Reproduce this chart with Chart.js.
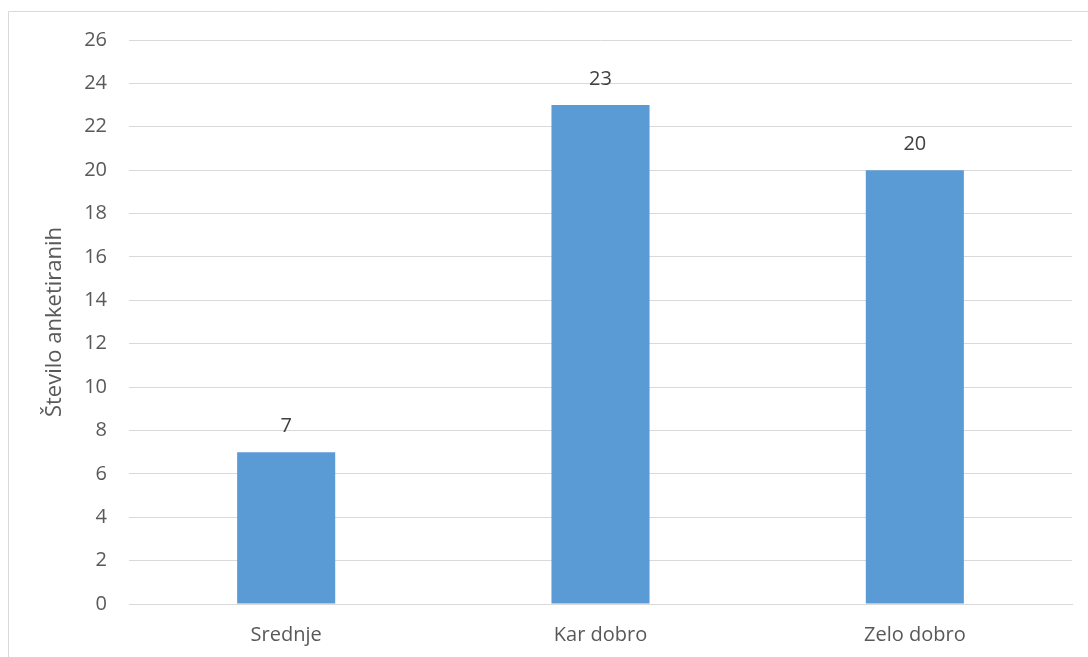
<!DOCTYPE html>
<html><head><meta charset="utf-8">
<script src="https://cdn.jsdelivr.net/npm/chart.js@4.4.1/dist/chart.umd.min.js"></script>
<style>html,body{margin:0;padding:0;background:#fff;}#wrap{width:1088px;height:657px;position:relative;}</style>
</head><body><div id="wrap"><canvas id="c" width="1088" height="657"></canvas></div>
<script>
const categories = ["Srednje", "Kar dobro", "Zelo dobro"];
const counts = [7, 23, 20];
const yTitle = "Število anketiranih";

const FONT = "'Open Sans', 'Liberation Sans', sans-serif";
const TXT = "#595959";
const GRID = "#d9d9d9";

const framePlugin = {
  id: 'frame',
  beforeDraw(chart) {
    const ctx = chart.ctx;
    ctx.save();
    ctx.strokeStyle = GRID; ctx.lineWidth = 1;
    ctx.beginPath();
    ctx.moveTo(8.5, 657); ctx.lineTo(8.5, 11.5); ctx.lineTo(1088, 11.5);
    ctx.stroke();
    ctx.restore();
  }
};
const labelPlugin = {
  id: 'vals',
  afterDatasetsDraw(chart) {
    const ctx = chart.ctx;
    const meta = chart.getDatasetMeta(0);
    ctx.save();
    ctx.font = "20px " + FONT; ctx.fillStyle = "#404040";
    ctx.textAlign = 'center'; ctx.textBaseline = 'middle';
    meta.data.forEach((bar, i) => {
      ctx.fillText(String(counts[i]), bar.x, bar.y - 26);
    });
    ctx.restore();
  }
};

new Chart(document.getElementById('c'), {
  type: 'bar',
  data: { labels: categories, datasets: [{ data: counts, backgroundColor: '#5b9bd5', categoryPercentage: 1, barPercentage: 0.312 }] },
  options: {
    responsive: false, animation: false,
    layout: { padding: { left: 0, right: 16, top: 40, bottom: 0 } },
    plugins: { legend: { display: false }, tooltip: { enabled: false } },
    scales: {
      x: {
        grid: { display: false, drawTicks: false },
        border: { display: true, color: GRID, width: 1 },
        ticks: { color: TXT, font: { family: FONT, size: 20 }, padding: 19 },
        afterFit(s) { s.height = 53; }
      },
      y: {
        min: 0, max: 26,
        grid: { color: GRID, lineWidth: 1, drawTicks: false },
        border: { display: false },
        ticks: { stepSize: 2, color: TXT, font: { family: FONT, size: 20 }, padding: 22 },
        title: { display: true, text: yTitle, color: TXT, font: { family: FONT, size: 22 }, padding: { top: 42, bottom: 0 } },
        afterFit(s) { s.width = 129; }
      }
    }
  },
  plugins: [framePlugin, labelPlugin]
});
</script></body></html>
